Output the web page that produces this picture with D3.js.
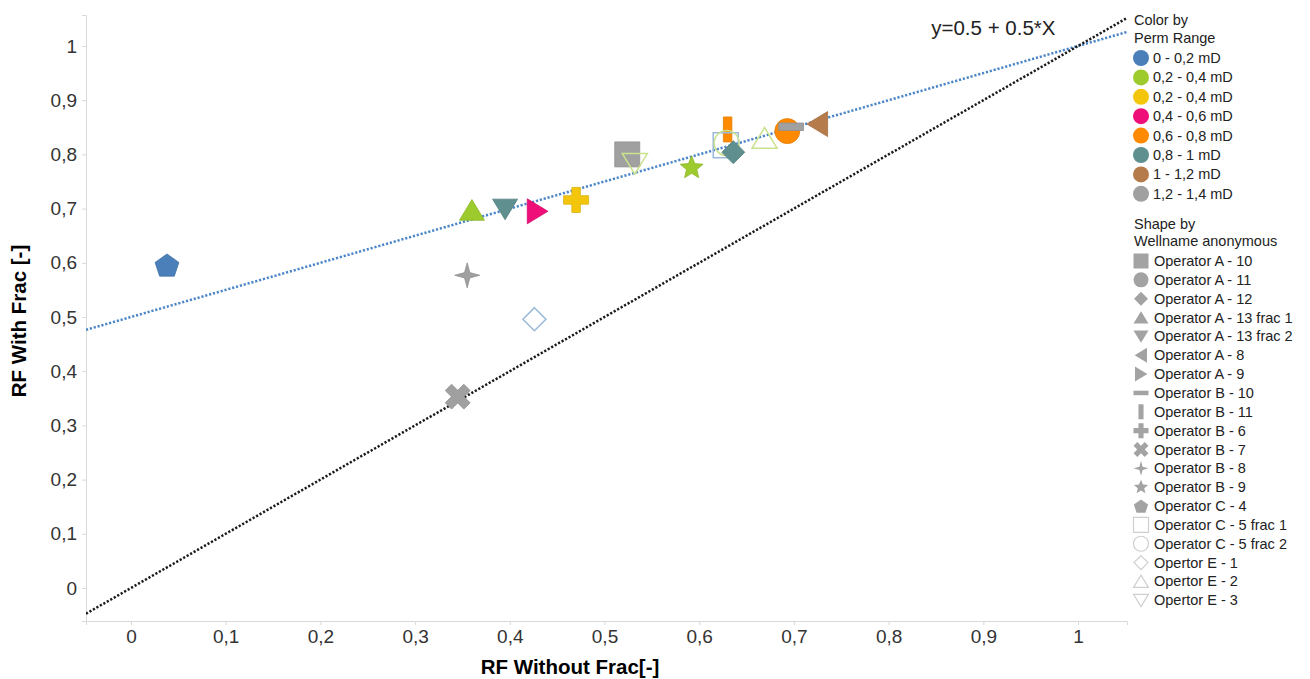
<!DOCTYPE html>
<html lang="en">
  <head>
    <meta charset="utf-8"/>
    <title>RF With Frac vs RF Without Frac</title>
    <script src="https://cdn.jsdelivr.net/npm/d3@7/dist/d3.min.js"></script>
    <style>
      body { margin: 0; background: #fff; }
      svg { display: block; font-family: "Liberation Sans", Arial, sans-serif; }
      .axis text { font-size: 19px; fill: #333; }
      .axis path, .axis line { stroke: #d9d9d9; }
      .legend text { font-size: 14.5px; fill: #222; }
    </style>
  </head>
  <body>
    <div id="chart"></div>
    <script>
    // colour legend
    var permRanges = ["0 - 0,2 mD", "0,2 - 0,4 mD", "0,2 - 0,4 mD", "0,4 - 0,6 mD",
                      "0,6 - 0,8 mD", "0,8 - 1 mD", "1 - 1,2 mD", "1,2 - 1,4 mD"];
    var permColors = ["#4a7fb9", "#9dcb2e", "#f3c60c", "#ee0f78",
                      "#ff8a00", "#5f8f8f", "#b67b4a", "#a0a0a0"];

    // shape legend
    var wellNames = ["Operator A - 10", "Operator A - 11", "Operator A - 12", "Operator A - 13 frac 1",
                     "Operator A - 13 frac 2", "Operator A - 8", "Operator A - 9", "Operator B - 10",
                     "Operator B - 11", "Operator B - 6", "Operator B - 7", "Operator B - 8",
                     "Operator B - 9", "Operator C - 4", "Operator C - 5 frac 1", "Operator C - 5 frac 2",
                     "Opertor E - 1", "Opertor E - 2", "Opertor E - 3"];
    var wellShapes = ["square", "circle", "diamond", "triUp", "triDown", "triLeft", "triRight", "dash",
                      "bar", "plus", "cross", "star4", "star5", "pentagon", "square", "circle",
                      "diamond", "triUp", "triDown"];
    var wellHollow = [0,0,0,0,0,0,0,0,0,0,0,0,0,0,1,1,1,1,1];

    // points (well index, perm index, RF without frac, RF with frac)
    var pointWell = [13, 3, 4, 6, 9, 0, 18, 12, 8, 14, 15, 2, 17, 1, 7, 5, 11, 16, 10];
    var pointPerm = [0, 1, 5, 3, 2, 7, 1, 1, 4, 0, 1, 5, 1, 4, 7, 6, 7, 0, 7];
    var pointX = [0.038, 0.360, 0.395, 0.429, 0.470, 0.524, 0.532, 0.592, 0.630, 0.628,
                  0.629, 0.636, 0.669, 0.693, 0.697, 0.725, 0.355, 0.426, 0.345];
    var pointY = [0.596, 0.697, 0.699, 0.695, 0.716, 0.800, 0.783, 0.775, 0.846, 0.817,
                  0.821, 0.804, 0.830, 0.843, 0.851, 0.856, 0.577, 0.496, 0.353];

    var tickValues = [0, 0.1, 0.2, 0.3, 0.4, 0.5, 0.6, 0.7, 0.8, 0.9, 1];
    var tickLabels = ["0", "0,1", "0,2", "0,3", "0,4", "0,5", "0,6", "0,7", "0,8", "0,9", "1"];

    var width = 1310, height = 679;
    var margin = {top: 15, right: 183, bottom: 58, left: 86};

    var svg = d3.select("#chart").append("svg")
        .attr("width", width)
        .attr("height", height);

    var x = d3.scaleLinear().domain([-0.0475, 1.0517]).range([margin.left, width - margin.right]);
    var y = d3.scaleLinear().domain([-0.0609, 1.0572]).range([height - margin.bottom, margin.top]);

    svg.append("g")
        .attr("class", "axis")
        .attr("transform", "translate(0," + (height - margin.bottom) + ")")
        .call(d3.axisBottom(x).tickValues(tickValues).tickSize(4).tickPadding(5)
              .tickFormat(function(d, i) { return tickLabels[i]; }));

    svg.append("g")
        .attr("class", "axis")
        .attr("transform", "translate(" + margin.left + ",0)")
        .call(d3.axisLeft(y).tickValues(tickValues).tickSize(4).tickPadding(5)
              .tickFormat(function(d, i) { return tickLabels[i]; }));

    svg.selectAll(".axis text").attr("fill", "#333");

    // axis titles
    svg.append("text")
        .attr("x", 570).attr("y", 674)
        .attr("text-anchor", "middle")
        .style("font-size", "20.5px").style("font-weight", "bold")
        .text("RF Without Frac[-]");
    svg.append("text")
        .attr("transform", "translate(26,321) rotate(-90)")
        .attr("text-anchor", "middle")
        .style("font-size", "20.5px").style("font-weight", "bold")
        .text("RF With Frac [-]");

    // reference lines
    svg.append("clipPath").attr("id", "plotClip")
      .append("rect")
        .attr("x", margin.left).attr("y", margin.top)
        .attr("width", width - margin.left - margin.right)
        .attr("height", height - margin.top - margin.bottom);

    var lines = svg.append("g").attr("clip-path", "url(#plotClip)");
    var xd = x.domain();
    lines.append("line")
        .attr("x1", x(xd[0])).attr("y1", y(0.5 + 0.5 * xd[0]))
        .attr("x2", x(xd[1])).attr("y2", y(0.5 + 0.5 * xd[1]))
        .attr("stroke", "#4a86c8").attr("stroke-width", 2.5)
        .attr("stroke-dasharray", "2.2,1.8");
    lines.append("line")
        .attr("x1", x(xd[0])).attr("y1", y(xd[0]))
        .attr("x2", x(xd[1])).attr("y2", y(xd[1]))
        .attr("stroke", "#1a1a1a").attr("stroke-width", 2.5)
        .attr("stroke-dasharray", "2.2,1.8");

    svg.append("text")
        .attr("x", x(0.845)).attr("y", y(1.02))
        .style("font-size", "20.5px").attr("fill", "#222")
        .text("y=0.5 + 0.5*X");

    // shapes
    function poly(pts) {
      return "M" + pts.map(function(p) { return p[0].toFixed(2) + "," + p[1].toFixed(2); }).join("L") + "Z";
    }
    function rot(pts, a) {
      var c = Math.cos(a), s = Math.sin(a);
      return pts.map(function(p) { return [p[0] * c - p[1] * s, p[0] * s + p[1] * c]; });
    }
    function starPts(n, ro, ri) {
      var pts = [];
      for (var i = 0; i < 2 * n; i++) {
        var a = -Math.PI / 2 + i * Math.PI / n;
        var r = i % 2 === 0 ? ro : ri;
        pts.push([r * Math.cos(a), r * Math.sin(a)]);
      }
      return pts;
    }
    function shapePath(type, s) {
      var h = s / 2;
      var t = s * 0.17;
      var plusPts = [[-t,-h],[t,-h],[t,-t],[h,-t],[h,t],[t,t],[t,h],[-t,h],[-t,t],[-h,t],[-h,-t],[-t,-t]];
      switch (type) {
        case "square": return poly([[-h,-h],[h,-h],[h,h],[-h,h]]);
        case "circle": return "M" + h + ",0A" + h + "," + h + " 0 1,1 " + (-h) + ",0A" + h + "," + h + " 0 1,1 " + h + ",0Z";
        case "diamond": return poly([[0,-h],[h,0],[0,h],[-h,0]]);
        case "triUp": return poly([[0,-h*0.85],[h,h*0.8],[-h,h*0.8]]);
        case "triDown": return poly([[0,h*0.85],[h,-h*0.8],[-h,-h*0.8]]);
        case "triLeft": return poly([[-h*0.85,0],[h*0.8,-h],[h*0.8,h]]);
        case "triRight": return poly([[h*0.85,0],[-h*0.8,-h],[-h*0.8,h]]);
        case "dash": return poly([[-h,-s*0.15],[h,-s*0.15],[h,s*0.15],[-h,s*0.15]]);
        case "bar": return poly([[-s*0.17,-h],[s*0.17,-h],[s*0.17,h],[-s*0.17,h]]);
        case "plus": return poly(plusPts);
        case "cross": return poly(rot(plusPts.map(function(p) { return [p[0]*1.05, p[1]*1.05]; }), Math.PI / 4));
        case "star4": return poly(starPts(4, h, h * 0.3));
        case "star5": return poly(starPts(5, h, h * 0.45));
        case "pentagon": return poly(d3.range(5).map(function(i) {
          var a = -Math.PI / 2 + i * 2 * Math.PI / 5;
          return [h * Math.cos(a), h * 0.98 * Math.sin(a) + h * 0.1];
        }));
      }
    }
    function lighten(c) { return d3.interpolateRgb(c, "#ffffff")(0.45); }

    var marks = svg.append("g");
    pointX.forEach(function(px, i) {
      var w = pointWell[i];
      var col = permColors[pointPerm[i]];
      var shape = wellShapes[w];
      var size = shape === "diamond" ? 23 : (shape === "star5" ? 24 : 25);
      var path = marks.append("path")
          .attr("d", shapePath(shape, size))
          .attr("transform", "translate(" + x(px) + "," + y(pointY[i]) + ")");
      if (wellHollow[w]) {
        path.attr("fill", "none").attr("stroke", lighten(col)).attr("stroke-width", 1.5);
      } else {
        path.attr("fill", col).attr("stroke", d3.color(col).darker(0.3)).attr("stroke-width", 0.8);
      }
    });

    // legends
    var legend = svg.append("g").attr("class", "legend");
    legend.append("text").attr("x", 1134).attr("y", 25).text("Color by");
    legend.append("text").attr("x", 1134).attr("y", 43).text("Perm Range");
    var colorItems = legend.selectAll(".citem").data(permRanges).enter().append("g")
        .attr("transform", function(d, i) { return "translate(1141," + (58 + i * 19.4) + ")"; });
    colorItems.append("circle").attr("r", 8)
        .attr("fill", function(d, i) { return permColors[i]; });
    colorItems.append("text").attr("x", 12).attr("y", 5).text(function(d) { return d; });

    legend.append("text").attr("x", 1134).attr("y", 229).text("Shape by");
    legend.append("text").attr("x", 1134).attr("y", 246).text("Wellname anonymous");
    var shapeItems = legend.selectAll(".sitem").data(wellNames).enter().append("g")
        .attr("transform", function(d, i) { return "translate(1141," + (261 + i * 18.85) + ")"; });
    shapeItems.append("path")
        .attr("d", function(d, i) { return shapePath(wellShapes[i], wellShapes[i] === "diamond" ? 14 : 15); })
        .attr("fill", function(d, i) { return wellHollow[i] ? "none" : "#a3a3a3"; })
        .attr("stroke", function(d, i) { return wellHollow[i] ? "#cfcfcf" : "none"; })
        .attr("stroke-width", 1.2);
    shapeItems.append("text").attr("x", 13).attr("y", 5).text(function(d) { return d; });
    </script>
  </body>
</html>
